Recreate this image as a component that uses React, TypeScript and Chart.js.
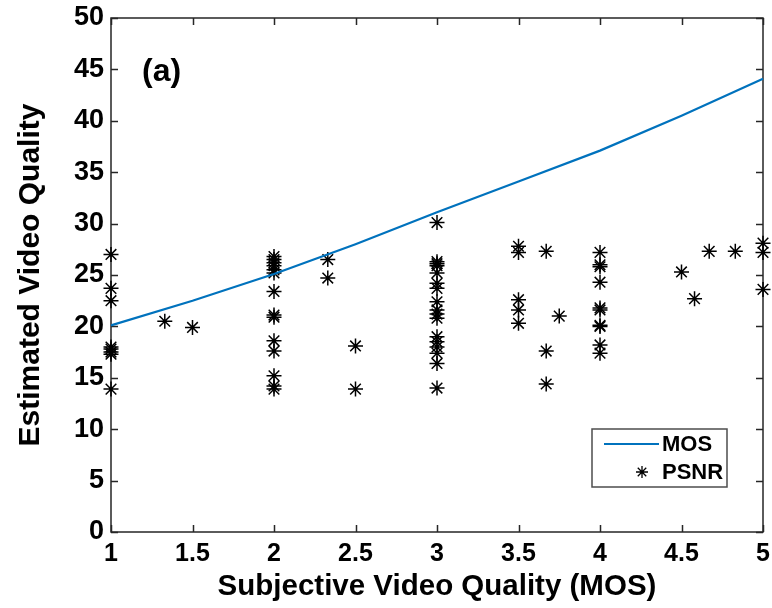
import React, { useEffect, useRef } from 'react';
import { Chart, registerables } from 'chart.js';

Chart.register(...registerables);

const FONT = '"Liberation Sans", Arial, Helvetica, sans-serif';

// X axis (Subjective Video Quality, MOS) and Y axis (Estimated Video Quality) ticks
const xTickValues = [1, 1.5, 2, 2.5, 3, 3.5, 4, 4.5, 5];
const yTickValues = [0, 5, 10, 15, 20, 25, 30, 35, 40, 45, 50];

// MOS curve
const mosX = [1, 1.5, 2, 2.5, 3, 3.5, 4, 4.5, 5];
const mosY = [20.1, 22.5, 25.1, 28.0, 31.1, 34.1, 37.1, 40.5, 44.1];

// PSNR scatter points
const psnrX = [
  1, 1, 1, 1, 1, 1, 1, 1,
  1.33, 1.5,
  2, 2, 2, 2, 2, 2, 2, 2, 2, 2, 2, 2, 2, 2,
  2.33, 2.33,
  2.5, 2.5,
  3, 3, 3, 3, 3, 3, 3, 3, 3, 3, 3, 3, 3, 3, 3, 3, 3,
  3.5, 3.5, 3.5, 3.5, 3.5,
  3.67, 3.67, 3.67,
  3.75,
  4, 4, 4, 4, 4, 4, 4, 4, 4, 4,
  4.5, 4.58, 4.67, 4.83,
  5, 5, 5,
];
const psnrY = [
  27.0, 23.7, 22.5, 18.0, 17.8, 17.5, 17.3, 13.9,
  20.5, 19.9,
  26.8, 26.5, 26.2, 25.9, 25.5, 25.2, 23.4, 21.1, 20.9, 18.6, 17.6, 15.2, 14.2, 13.9,
  26.5, 24.7,
  18.1, 13.9,
  30.1, 26.3, 26.1, 25.9, 25.2, 24.2, 23.7, 22.4, 21.6, 21.2, 20.8, 19.0, 18.5, 18.0, 17.4, 16.4, 14.0,
  27.8, 27.2, 22.6, 21.6, 20.3,
  27.3, 17.6, 14.4,
  21.0,
  27.2, 26.0, 25.8, 24.3, 21.8, 21.6, 20.1, 20.0, 18.2, 17.4,
  25.3, 22.7, 27.3, 27.3,
  28.1, 27.2, 23.6,
];

const seriesNames = ['MOS', 'PSNR'];
const panelLabel = '(a)';
const xTitle = 'Subjective Video Quality (MOS)';
const yTitle = 'Estimated Video Quality';

const MOS_COLOR = '#0072BD';
const AXIS_COLOR = '#262626';

function drawStar(ctx: CanvasRenderingContext2D, x: number, y: number, r: number) {
  ctx.beginPath();
  for (let k = 0; k < 4; k++) {
    const ang = (k * Math.PI) / 4;
    const dx = Math.cos(ang) * r;
    const dy = Math.sin(ang) * r;
    ctx.moveTo(x - dx, y - dy);
    ctx.lineTo(x + dx, y + dy);
  }
  ctx.stroke();
}

const framePlugin = {
  id: 'matlabFrame',
  beforeDatasetsDraw(chart: any) {
    const { ctx, chartArea: a, scales } = chart;
    const xs = scales.x;
    const ys = scales.y;
    const TL = 7;
    ctx.save();
    ctx.strokeStyle = AXIS_COLOR;
    ctx.lineWidth = 1.5;
    ctx.strokeRect(a.left, a.top, a.right - a.left, a.bottom - a.top);
    ctx.beginPath();
    for (const v of xTickValues) {
      const px = Math.round(xs.getPixelForValue(v)) + 0.5;
      ctx.moveTo(px, a.bottom);
      ctx.lineTo(px, a.bottom - TL);
      ctx.moveTo(px, a.top);
      ctx.lineTo(px, a.top + TL);
    }
    for (const v of yTickValues) {
      const py = Math.round(ys.getPixelForValue(v)) + 0.5;
      ctx.moveTo(a.left, py);
      ctx.lineTo(a.left + TL, py);
      ctx.moveTo(a.right, py);
      ctx.lineTo(a.right - TL, py);
    }
    ctx.stroke();
    ctx.restore();
  },
  afterDraw(chart: any) {
    const { ctx, chartArea: a } = chart;
    ctx.save();
    // panel label
    ctx.fillStyle = '#000';
    ctx.font = `bold 32px ${FONT}`;
    ctx.textAlign = 'left';
    ctx.textBaseline = 'middle';
    ctx.fillText(panelLabel, a.left + 31, a.top + 54);

    // legend
    const bx = a.right - 171;
    const by = a.bottom - 103;
    const bw = 135;
    const bh = 58;
    ctx.fillStyle = '#fff';
    ctx.fillRect(bx, by, bw, bh);
    ctx.strokeStyle = '#4d4d4d';
    ctx.lineWidth = 1.5;
    ctx.strokeRect(bx, by, bw, bh);
    const row1 = by + 15;
    const row2 = by + 43;
    ctx.strokeStyle = MOS_COLOR;
    ctx.lineWidth = 2;
    ctx.beginPath();
    ctx.moveTo(bx + 12, row1);
    ctx.lineTo(bx + 67, row1);
    ctx.stroke();
    ctx.strokeStyle = '#000';
    ctx.lineWidth = 1.3;
    drawStar(ctx, bx + 50, row2, 6);
    ctx.fillStyle = '#000';
    ctx.font = `bold 22px ${FONT}`;
    ctx.textBaseline = 'middle';
    ctx.fillText(seriesNames[0], bx + 70, row1 + 1);
    ctx.fillText(seriesNames[1], bx + 70, row2 + 1);
    ctx.restore();
  },
};

export default function App() {
  const canvasRef = useRef<HTMLCanvasElement | null>(null);

  useEffect(() => {
    const canvas = canvasRef.current;
    if (!canvas) return;
    const chart = new Chart(canvas, {
      type: 'scatter',
      data: {
        datasets: [
          {
            type: 'line',
            label: seriesNames[0],
            data: mosX.map((x, i) => ({ x, y: mosY[i] })),
            borderColor: MOS_COLOR,
            backgroundColor: MOS_COLOR,
            borderWidth: 2.2,
            pointRadius: 0,
            tension: 0,
            fill: false,
            clip: false,
          } as any,
          {
            type: 'scatter',
            label: seriesNames[1],
            data: psnrX.map((x, i) => ({ x, y: psnrY[i] })),
            pointStyle: 'star',
            pointRadius: 7.5,
            borderColor: '#000',
            backgroundColor: '#000',
            borderWidth: 1.5,
            clip: false,
          } as any,
        ],
      },
      options: {
        animation: false,
        responsive: false,
        devicePixelRatio: 1,
        layout: { padding: { top: 18, right: 8, left: 0, bottom: 0 } },
        plugins: {
          legend: { display: false },
          tooltip: { enabled: false },
        },
        scales: {
          x: {
            type: 'linear',
            min: 1,
            max: 5,
            afterBuildTicks: (scale: any) => {
              scale.ticks = xTickValues.map((v) => ({ value: v }));
            },
            ticks: {
              padding: 7,
              color: '#000',
              font: { family: FONT, size: 25, weight: 'bold' },
              maxRotation: 0,
              autoSkip: false,
              callback: (v: any) => String(Number(v)),
            },
            grid: { display: false, drawTicks: false },
            border: { display: false },
            title: {
              display: true,
              text: xTitle,
              color: '#000',
              font: { family: FONT, size: 29.5, weight: 'bold' },
              padding: { top: 0, bottom: 3 },
            },
            afterFit: (scale: any) => {
              scale.height = 76;
              scale.paddingLeft = 0;
              scale.paddingRight = 0;
            },
          },
          y: {
            type: 'linear',
            min: 0,
            max: 50,
            afterBuildTicks: (scale: any) => {
              scale.ticks = yTickValues.map((v) => ({ value: v }));
            },
            ticks: {
              padding: 7,
              color: '#000',
              font: { family: FONT, size: 27, weight: 'bold' },
              autoSkip: false,
              callback: (v: any) => String(Number(v)),
            },
            grid: { display: false, drawTicks: false },
            border: { display: false },
            title: {
              display: true,
              text: yTitle,
              color: '#000',
              font: { family: FONT, size: 30, weight: 'bold' },
              padding: { top: 13, bottom: 0 },
            },
            afterFit: (scale: any) => {
              scale.width = 111;
              scale.paddingTop = 0;
              scale.paddingBottom = 0;
            },
          },
        },
      },
      plugins: [framePlugin],
    });
    return () => chart.destroy();
  }, []);

  return (
    <div style={{ position: 'absolute', left: 0, top: 0, width: 772, height: 608, background: '#fff' }}>
      <canvas ref={canvasRef} width={772} height={608} style={{ display: 'block', width: 772, height: 608 }} />
    </div>
  );
}
